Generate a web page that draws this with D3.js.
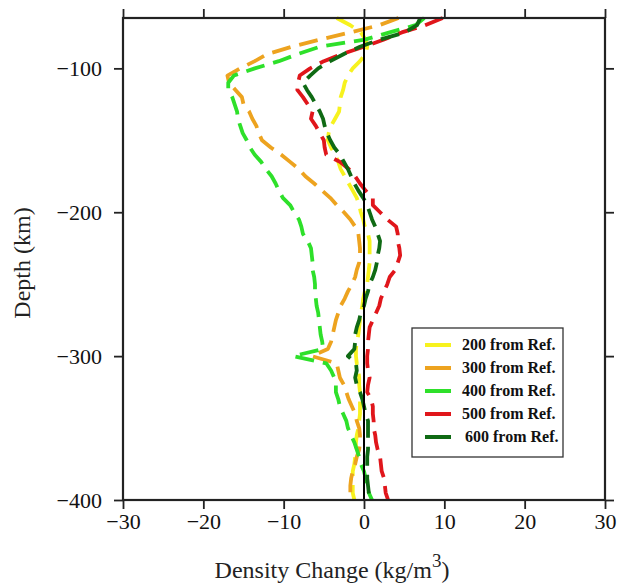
<!DOCTYPE html>
<html lang="en">
<head>
<meta charset="UTF-8">
<title>Density Change</title>
<style>
  body { margin: 0; background: #fff; }
  text { font-family: "Liberation Serif", "DejaVu Serif", serif; }
</style>
</head>
<body>
<script src="https://d3js.org/d3.v7.min.js"></script>
<div id="chart"></div>
<script>
// depth samples (km), every 5 km from -65 to -400
const depths = d3.range(-65, -401, -5);

const s200 = [-3.4,-1.7,-0.4,0.2,0.4,0.2,-0.5,-1.4,-2.0,-2.4,-2.6,-2.9,-3.0,-3.1,-3.6,-4.1,-4.4,-4.5,-4.1,-3.6,-3.2,-2.9,-2.4,-1.9,-1.4,-0.9,-0.6,-0.4,-0.1,0.1,0.5,0.7,0.7,0.7,0.7,0.6,0.5,0.4,0.1,-0.1,-0.2,-0.4,-0.5,-0.6,-0.7,-0.9,-1.0,-1.0,-0.9,-0.7,-0.6,-0.6,-0.5,-0.5,-0.5,-0.5,-0.6,-0.7,-0.9,-1.0,-1.0,-1.1,-1.2,-1.4,-1.4,-1.4,-1.4,-1.2];
const s300 = [4.3,1.9,-1.7,-5.5,-9.0,-12.0,-13.6,-15.4,-17.0,-16.8,-16.0,-15.2,-15.0,-14.3,-13.9,-13.4,-13.1,-12.7,-11.6,-10.3,-9.2,-8.1,-7.3,-6.2,-5.2,-4.2,-3.4,-2.5,-1.7,-1.1,-0.7,-0.6,-0.5,-0.5,-0.6,-0.9,-1.1,-1.5,-2.0,-2.4,-2.9,-3.2,-3.5,-3.7,-3.9,-4.1,-4.5,-6.5,-3.4,-3.2,-3.0,-2.5,-2.2,-1.9,-1.5,-1.1,-0.9,-0.6,-0.5,-0.5,-0.6,-0.9,-1.1,-1.4,-1.6,-1.7,-1.7,-1.5];
const s400 = [7.5,6.4,3.2,0.1,-5.5,-8.2,-10.6,-13.6,-16.2,-16.9,-16.9,-16.4,-16.1,-15.8,-15.7,-15.4,-15.1,-14.6,-14.2,-13.6,-12.8,-12.2,-11.5,-11.0,-10.6,-10.1,-9.2,-8.7,-8.1,-7.8,-7.6,-7.0,-6.6,-6.5,-6.4,-6.4,-6.2,-6.1,-6.1,-6.0,-5.9,-5.7,-5.6,-5.5,-5.4,-5.2,-5.1,-8.8,-4.7,-4.1,-3.7,-3.5,-3.5,-3.2,-3.0,-2.6,-2.2,-2.0,-1.6,-1.2,-0.9,-0.6,-0.4,0.0,0.2,0.5,0.6,1.0];
const s500 = [9.8,7.6,4.7,2.5,0.0,-2.7,-5.0,-6.7,-8.0,-8.2,-8.3,-7.6,-7.0,-6.4,-6.6,-6.0,-5.5,-5.0,-4.9,-4.7,-3.0,-1.9,-1.1,-0.5,0.2,1.1,1.1,2.0,2.9,4.0,4.2,4.2,4.4,4.5,4.2,3.9,3.2,2.9,2.5,2.1,1.9,1.5,1.1,0.7,0.6,0.5,0.5,0.4,0.4,0.5,0.7,0.5,0.4,0.9,1.1,1.1,1.2,1.2,1.4,1.5,1.7,2.0,2.1,2.2,2.5,2.6,2.7,3.0];
const s600 = [7.0,6.6,5.1,2.0,-0.5,-2.5,-4.2,-5.7,-6.7,-7.6,-7.1,-6.5,-6.0,-5.5,-5.1,-4.9,-4.6,-4.2,-3.7,-3.0,-2.5,-2.0,-1.6,-1.2,-0.7,-0.1,0.4,0.7,1.0,1.4,1.7,2.0,1.9,1.7,1.6,1.4,1.1,0.7,0.5,0.2,0.0,-0.4,-0.6,-0.9,-1.1,-1.1,-1.2,-2.0,-1.0,-0.9,-1.1,-0.9,-0.5,-0.2,0.0,0.2,0.5,0.5,0.5,0.5,0.5,0.4,0.4,0.4,0.4,0.5,0.6,0.7];

const seriesNames = ["200 from Ref.", "300 from Ref.", "400 from Ref.", "500 from Ref.", "600 from Ref."];
const seriesValues = [s200, s300, s400, s500, s600];
const seriesColors = ["#f7f21e", "#eda31f", "#2ee02a", "#e0161b", "#0f6a14"];

const xTicks = [-30, -20, -10, 0, 10, 20, 30];
const yTicks = [-100, -200, -300, -400];

const W = 619, H = 586;
const margin = {top: 18, right: 14, bottom: 86, left: 123};
const width = W - margin.left - margin.right,
      height = H - margin.top - margin.bottom;

const svg = d3.select("#chart").append("svg")
    .attr("width", W).attr("height", H)
  .append("g")
    .attr("transform", `translate(${margin.left},${margin.top})`);

const x = d3.scaleLinear().domain([-30, 30]).range([0, width]);
const y = d3.scaleLinear().domain([-65, -400]).range([0, height]);

// curves
const line = d3.line()
    .x(d => x(d[1]))
    .y(d => y(d[0]))
    .curve(d3.curveLinear);

seriesValues.forEach((vals, i) => {
  svg.append("path")
    .datum(depths.map((dp, j) => [dp, vals[j]]))
    .attr("fill", "none")
    .attr("stroke", seriesColors[i])
    .attr("stroke-width", 3.8)
    .attr("stroke-dasharray", "19,9")
    .attr("stroke-linejoin", "round")
    .attr("d", line);
});

// zero line
svg.append("line")
  .attr("x1", x(0)).attr("x2", x(0))
  .attr("y1", 0).attr("y2", height)
  .attr("stroke", "#000").attr("stroke-width", 2);

// frame
svg.append("rect")
  .attr("width", width).attr("height", height)
  .attr("fill", "none").attr("stroke", "#222").attr("stroke-width", 2.2);

// axes
const axisFont = "22px";
svg.append("g")
  .attr("transform", `translate(0,${height})`)
  .call(d3.axisBottom(x).tickValues(xTicks).tickSize(9).tickPadding(4)
        .tickFormat(d => d < 0 ? "\u2212" + Math.abs(d) : d))
  .call(g => g.select(".domain").remove())
  .call(g => g.selectAll("line").attr("stroke", "#222").attr("stroke-width", 1.8))
  .call(g => g.selectAll("text").style("font-size", axisFont).style("font-family", "Liberation Serif").attr("fill", "#111"));

svg.append("g")
  .call(d3.axisTop(x).tickValues(xTicks).tickSize(9).tickFormat(""))
  .call(g => g.select(".domain").remove())
  .call(g => g.selectAll("line").attr("stroke", "#222").attr("stroke-width", 1.8));

svg.append("g")
  .call(d3.axisLeft(y).tickValues(yTicks).tickSize(9).tickPadding(12)
        .tickFormat(d => "\u2212" + Math.abs(d)))
  .call(g => g.select(".domain").remove())
  .call(g => g.selectAll("line").attr("stroke", "#222").attr("stroke-width", 1.8))
  .call(g => g.selectAll("text").style("font-size", axisFont).style("font-family", "Liberation Serif").attr("fill", "#111"));

svg.append("g")
  .attr("transform", `translate(${width},0)`)
  .call(d3.axisRight(y).tickValues(yTicks).tickSize(9).tickFormat(""))
  .call(g => g.select(".domain").remove())
  .call(g => g.selectAll("line").attr("stroke", "#222").attr("stroke-width", 1.8));

// axis titles
const xt = svg.append("text")
  .attr("x", width / 2 - 32).attr("y", height + 78)
  .attr("text-anchor", "middle")
  .style("font-size", "24px").attr("fill", "#222");
xt.append("tspan").text("Density Change (kg/m");
xt.append("tspan").attr("dy", -11).style("font-size", "19px").text("3");
xt.append("tspan").attr("dy", 11).text(")");

svg.append("text")
  .attr("transform", `translate(${-93},${height / 2 + 4}) rotate(-90)`)
  .attr("text-anchor", "middle")
  .style("font-size", "24px").attr("fill", "#222")
  .text("Depth (km)");

// legend
const lg = svg.append("g").attr("transform", `translate(${412 - margin.left},${328 - margin.top})`);
lg.append("rect")
  .attr("width", 151).attr("height", 129)
  .attr("fill", "#fff").attr("stroke", "#333").attr("stroke-width", 1.3);
seriesNames.forEach((name, i) => {
  const yy = 17 + i * 23;
  lg.append("line")
    .attr("x1", 13).attr("x2", 39).attr("y1", yy).attr("y2", yy)
    .attr("stroke", seriesColors[i]).attr("stroke-width", 4);
  lg.append("text")
    .attr("x", i === 4 ? 53 : 50).attr("y", yy + 5)
    .style("font-size", "16px").style("font-weight", "bold").attr("fill", "#111")
    .text(name);
});
</script>
</body>
</html>
